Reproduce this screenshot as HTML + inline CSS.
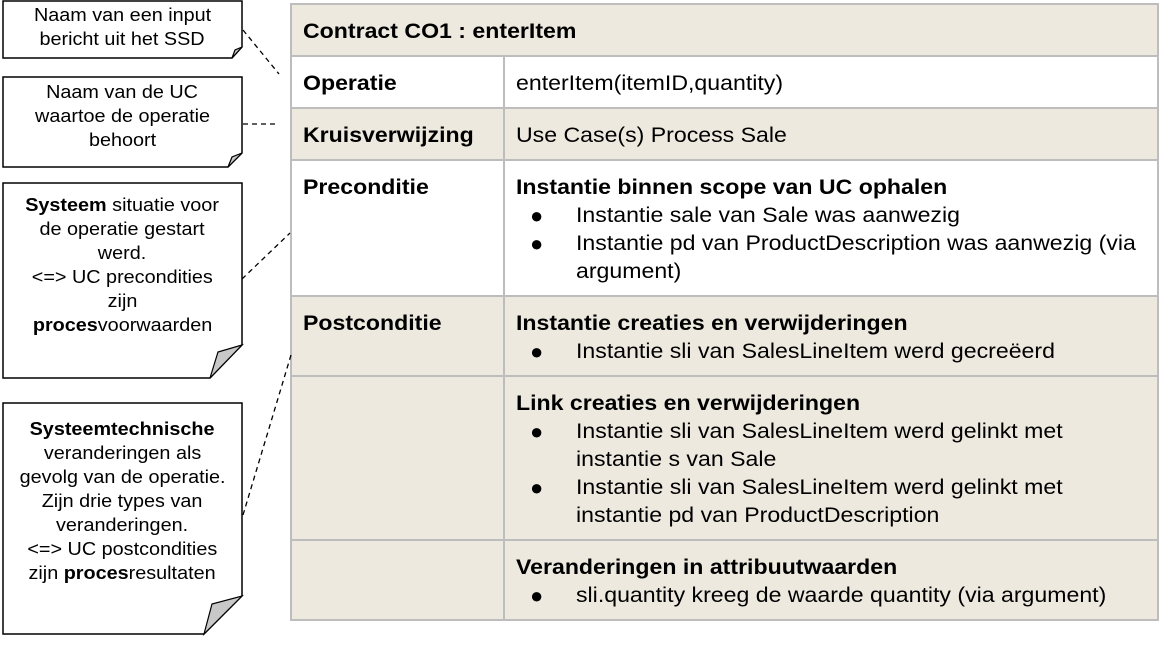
<!DOCTYPE html>
<html><head><meta charset="utf-8"><style>
body{margin:0;width:1168px;height:649px;background:#fff;position:relative;overflow:hidden;font-family:"Liberation Sans",Arial,sans-serif;color:#000}
.n{position:absolute;text-align:center;font-size:18px;line-height:24px;white-space:nowrap}
.n span{display:inline-block;transform:scaleX(1.1)}
.c{position:absolute;font-size:21px;line-height:28px;transform:scaleX(1.1);transform-origin:0 0;white-space:nowrap;margin-top:2px}
b{font-weight:bold}
.bl{position:absolute;font-size:22px;line-height:28px;margin-top:2px}
</style></head><body>
<svg width="1168" height="649" style="position:absolute;left:0;top:0">
<g fill="#ede9df">
<rect x="291" y="4" width="867" height="52"/>
<rect x="291" y="108" width="867" height="52"/>
<rect x="291" y="296" width="867" height="324"/>
</g>
<g stroke="#bdbdbd" stroke-width="2" fill="none">
<rect x="291" y="4" width="867" height="616"/>
<line x1="291" y1="56" x2="1158" y2="56"/>
<line x1="291" y1="108" x2="1158" y2="108"/>
<line x1="291" y1="160" x2="1158" y2="160"/>
<line x1="291" y1="296" x2="1158" y2="296"/>
<line x1="291" y1="376" x2="1158" y2="376"/>
<line x1="291" y1="540" x2="1158" y2="540"/>
<line x1="504" y1="56" x2="504" y2="620"/>
</g>
<g stroke="#000" stroke-width="1.3" fill="none" stroke-dasharray="5,4">
<line x1="243" y1="30" x2="279" y2="74"/>
<line x1="243" y1="124" x2="279" y2="124"/>
<line x1="242" y1="279" x2="290" y2="233"/>
<line x1="243" y1="515" x2="291" y2="355"/>
</g>
<g stroke="#000" stroke-width="1.5" fill="#fff">
<path d="M3 1H242V47L232 58H3Z"/>
<path d="M3 77H242V153L228 167H3Z"/>
<path d="M3 183H242V345L210 378H3Z"/>
<path d="M3 403H242V596L204 634H3Z"/>
</g>
<g stroke="#000" stroke-width="1.2" fill="#c8c8c8">
<path d="M242 47L232 58L235 50Z"/>
<path d="M242 153L228 167L232 157Z"/>
<path d="M242 345L210 378L218 352Z"/>
<path d="M242 596L204 634L212 604Z"/>
</g>
</svg>
<div class="n" style="left:3px;top:3px;width:239px"><span>Naam van een input</span><br><span>bericht uit het SSD</span></div>
<div class="n" style="left:3px;top:80px;width:239px"><span>Naam van de UC</span><br><span>waartoe de operatie</span><br><span>behoort</span></div>
<div class="n" style="left:3px;top:193px;width:239px"><span><b>Systeem</b> situatie voor</span><br><span>de operatie gestart</span><br><span>werd.</span><br><span>&lt;=&gt; UC precondities</span><br><span>zijn</span><br><span><b>proces</b>voorwaarden</span></div>
<div class="n" style="left:3px;top:417px;width:239px"><span><b>Systeemtechnische</b></span><br><span>veranderingen als</span><br><span>gevolg van de operatie.</span><br><span>Zijn drie types van</span><br><span>veranderingen.</span><br><span>&lt;=&gt; UC postcondities</span><br><span>zijn <b>proces</b>resultaten</span></div>

<div class="c" style="left:303px;top:16px"><b>Contract CO1 : enterItem</b></div>
<div class="c" style="left:303px;top:68px"><b>Operatie</b></div>
<div class="c" style="left:516px;top:68px">enterItem(itemID,quantity)</div>
<div class="c" style="left:303px;top:120px"><b>Kruisverwijzing</b></div>
<div class="c" style="left:516px;top:120px">Use Case(s) Process Sale</div>
<div class="c" style="left:303px;top:172px"><b>Preconditie</b></div>
<div class="c" style="left:516px;top:172px"><b>Instantie binnen scope van UC ophalen</b></div>
<div class="bl" style="left:530px;top:200px">●</div><div class="c" style="left:576px;top:200px">Instantie sale van Sale was aanwezig</div>
<div class="bl" style="left:530px;top:228px">●</div><div class="c" style="left:576px;top:228px">Instantie pd van ProductDescription was aanwezig (via<br>argument)</div>
<div class="c" style="left:303px;top:308px"><b>Postconditie</b></div>
<div class="c" style="left:516px;top:308px"><b>Instantie creaties en verwijderingen</b></div>
<div class="bl" style="left:530px;top:336px">●</div><div class="c" style="left:576px;top:336px">Instantie sli van SalesLineItem werd gecreëerd</div>
<div class="c" style="left:516px;top:388px"><b>Link creaties en verwijderingen</b></div>
<div class="bl" style="left:530px;top:416px">●</div><div class="c" style="left:576px;top:416px">Instantie sli van SalesLineItem werd gelinkt met<br>instantie s van Sale</div>
<div class="bl" style="left:530px;top:472px">●</div><div class="c" style="left:576px;top:472px">Instantie sli van SalesLineItem werd gelinkt met<br>instantie pd van ProductDescription</div>
<div class="c" style="left:516px;top:552px"><b>Veranderingen in attribuutwaarden</b></div>
<div class="bl" style="left:530px;top:580px">●</div><div class="c" style="left:576px;top:580px">sli.quantity kreeg de waarde quantity (via argument)</div>
</body></html>
